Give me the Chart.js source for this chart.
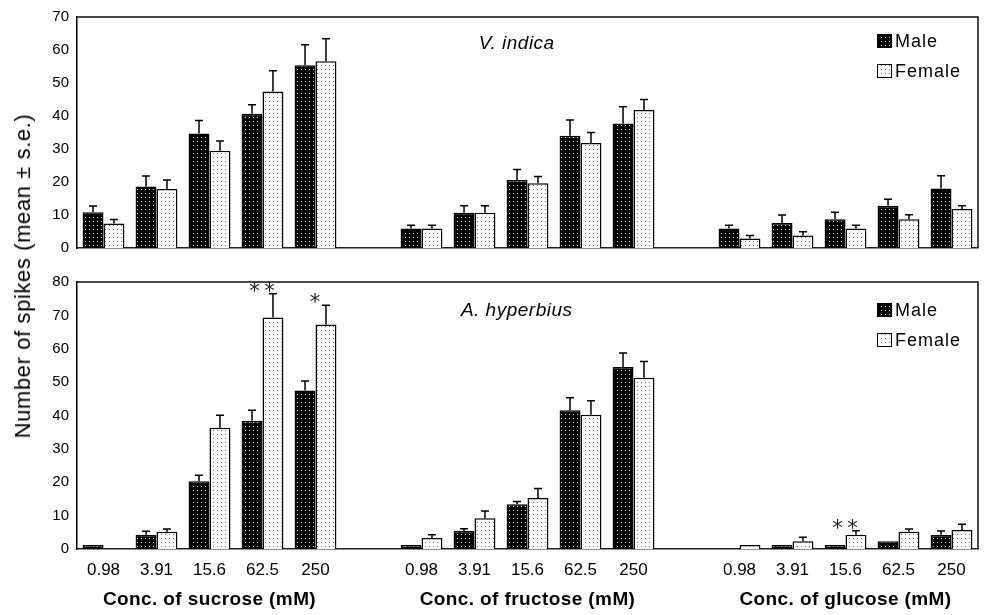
<!DOCTYPE html>
<html><head><meta charset="utf-8">
<script src="https://cdn.jsdelivr.net/npm/chart.js@4.4.0/dist/chart.umd.min.js"></script>
<style>
html,body{margin:0;padding:0;background:#fff;}
#wrap{position:relative;width:984px;height:615px;overflow:hidden;background:#fff;}
#c1box{position:absolute;left:0;top:0;width:984px;height:265px;}
#c2box{position:absolute;left:0;top:265px;width:984px;height:350px;}
#ytitle{position:absolute;left:23px;top:276px;transform:translate(-50%,-50%) rotate(-90deg);white-space:nowrap;font:22px "Liberation Sans",Arial,sans-serif;letter-spacing:0.6px;color:#000;}
</style></head>
<body>
<div id="wrap">
<div id="c1box"><canvas id="c1"></canvas></div>
<div id="c2box"><canvas id="c2"></canvas></div>
<div id="ytitle">Number of spikes (mean ± s.e.)</div>
</div>
<script>
// ---- data ----
const concLabels = ['0.98','3.91','15.6','62.5','250'];
const sugarTitles = ['Conc. of sucrose (mM)','Conc. of fructose (mM)','Conc. of glucose (mM)'];
const seriesNames = ['Male','Female'];
const speciesTop = 'V. indica';
const speciesBottom = 'A. hyperbius';
const yTicksTop = [0,10,20,30,40,50,60,70];
const yTicksBottom = [0,10,20,30,40,50,60,70,80];

// V. indica (sucrose x5, fructose x5, glucose x5)
const vIndicaMaleMean   = [10.8,18.6,34.7,40.7,55.4, 5.9,10.7,20.6,34.0,37.7, 5.9,7.6,8.7,12.8,18.0];
const vIndicaMaleSE     = [1.9,3.2,3.9,2.7,6.2, 1.0,2.1,3.2,4.8,5.1, 1.0,2.4,2.1,2.0,3.9];
const vIndicaFemaleMean = [7.4,17.9,29.5,47.4,56.6, 5.9,10.7,19.6,31.8,41.8, 2.9,3.8,5.9,8.7,11.8];
const vIndicaFemaleSE   = [1.2,2.7,2.9,6.3,6.8, 1.0,2.1,2.1,3.2,3.2, 0.9,1.1,1.0,1.4,1.0];

// A. hyperbius
const aHypMaleMean   = [1.2,4.3,20.3,38.4,47.5, 1.2,5.4,13.4,41.6,54.5, 0,1.2,1.2,2.3,4.3];
const aHypMaleSE     = [0,1.0,1.8,3.2,2.8, 0,0.7,0.8,3.7,4.2, 0,0,0,0,1.1];
const aHypFemaleMean = [0,5.2,36.3,69.4,67.3, 3.3,9.2,15.3,40.2,51.3, 1.2,2.3,4.3,5.2,5.7];
const aHypFemaleSE   = [0,0.8,3.8,7.1,5.7, 1.0,2.2,2.8,4.2,4.9, 0,1.2,1.2,0.8,1.7];

// significance marks (bottom panel, female series, index into 15 values)
const aHypStars = [{series:1, index:3, mark:'**'}, {series:1, index:4, mark:'*'}, {series:1, index:12, mark:'**'}];

// ---- helpers ----
function withGaps(arr, gapVal){
  const out=[];
  for(let g=0;g<3;g++){
    for(let k=0;k<5;k++) out.push(arr[g*5+k]);
    if(g<2) out.push(gapVal);
  }
  return out;
}
function slotOf(i){ return i + Math.floor(i/5); }
const slotLabels = withGaps([...concLabels,...concLabels,...concLabels], '');

function makePattern(bg, dot, w, h){
  const c=document.createElement('canvas'); c.width=w; c.height=h;
  const x=c.getContext('2d'); x.fillStyle=bg; x.fillRect(0,0,w,h);
  x.fillStyle=dot; x.fillRect(1,1,1,1);
  return x.createPattern(c,'repeat');
}
const malePat = makePattern('#000','#e0e0e0',4,4);
const femalePat = makePattern('#fff','#707070',4,4);
const fills = [malePat, femalePat];

const FONT = '"Liberation Sans", Arial, sans-serif';

const decoPlugin = {
  id:'panelDeco',
  afterDatasetsDraw(chart, args, o){
    const ctx=chart.ctx, ca=chart.chartArea, ys=chart.scales.y, xs=chart.scales.x;
    ctx.save();
    // error bars
    ctx.strokeStyle='#000'; ctx.lineWidth=1.5;
    chart.data.datasets.forEach((ds,d)=>{
      const meta=chart.getDatasetMeta(d);
      meta.data.forEach((el,i)=>{
        const v=ds.data[i], se=ds.se[i];
        if(v==null || !se) return;
        const x=el.x, yt=ys.getPixelForValue(v+se), yb=ys.getPixelForValue(v);
        ctx.beginPath(); ctx.moveTo(x,yb); ctx.lineTo(x,yt);
        ctx.moveTo(x-4,yt); ctx.lineTo(x+4,yt); ctx.stroke();
      });
    });
    // frame top and right
    ctx.strokeStyle='#111'; ctx.lineWidth=1.5;
    ctx.beginPath(); ctx.moveTo(ca.left,ca.top); ctx.lineTo(ca.right,ca.top); ctx.lineTo(ca.right,ca.bottom); ctx.stroke();
    // species
    ctx.letterSpacing='0.5px';
    ctx.fillStyle='#000'; ctx.font='italic 19px '+FONT; ctx.textAlign='center'; ctx.textBaseline='middle';
    ctx.fillText(o.species, ca.left + (ca.right-ca.left)*0.488, ca.top + o.speciesDy);
    // legend
    o.legendDy.forEach((dy,k)=>{
      const bx=877, by=ca.top+dy-7;
      ctx.fillStyle=fills[k]; ctx.fillRect(bx,by,15,14);
      ctx.strokeStyle='#000'; ctx.lineWidth=1; ctx.strokeRect(bx+0.5,by+0.5,14,13);
      ctx.fillStyle='#000'; ctx.font='18px '+FONT; ctx.textAlign='left'; ctx.textBaseline='middle';
      ctx.letterSpacing='1px';
      ctx.fillText(seriesNames[k], bx+18, ca.top+dy+1);
    });
    ctx.letterSpacing='0px';
    // stars
    (o.stars||[]).forEach(s=>{
      const ds=chart.data.datasets[s.series];
      const slot=slotOf(s.index);
      const el=chart.getDatasetMeta(s.series).data[slot];
      const v=ds.data[slot], se=ds.se[slot]||0;
      const cx=el.x-11, cy=ys.getPixelForValue(v+se)-7;
      ctx.font='21px "DejaVu Sans", sans-serif'; ctx.textAlign='center'; ctx.textBaseline='alphabetic';
      ctx.fillStyle='#222';
      const m=ctx.measureText('*');
      const off=(m.actualBoundingBoxAscent - m.actualBoundingBoxDescent)/2;
      const n=s.mark.length, sp=15;
      for(let j=0;j<n;j++){
        const x=cx + (j-(n-1)/2)*sp;
        ctx.fillText('*', x, cy+off);
      }
    });
    // x titles
    if(o.xTitles){
      ctx.letterSpacing='0.4px';
      ctx.fillStyle='#000'; ctx.font='bold 19px '+FONT; ctx.textAlign='center'; ctx.textBaseline='middle';
      for(let g=0;g<3;g++){
        const x=(xs.getPixelForValue(g*6)+xs.getPixelForValue(g*6+4))/2;
        ctx.fillText(sugarTitles[g], x, o.xTitleY);
      }
      ctx.letterSpacing='0px';
    }
    ctx.restore();
  }
};

function makeChart(id, maleMean, maleSE, femMean, femSE, yTicks, cfg){
  const ymax=yTicks[yTicks.length-1];
  return new Chart(document.getElementById(id), {
    type:'bar',
    data:{
      labels: slotLabels,
      datasets:[
        {label:seriesNames[0], data:withGaps(maleMean,null), se:withGaps(maleSE,null), backgroundColor:malePat, borderColor:'#000', borderWidth:1.5},
        {label:seriesNames[1], data:withGaps(femMean,null), se:withGaps(femSE,null), backgroundColor:femalePat, borderColor:'#000', borderWidth:1.5}
      ]
    },
    options:{
      responsive:true, maintainAspectRatio:false, animation:false,
      devicePixelRatio:1,
      layout:{padding:{top:cfg.padTop,right:6,bottom:0,left:0}},
      datasets:{bar:{categoryPercentage:0.79, barPercentage:1.0}},
      plugins:{legend:{display:false}, tooltip:{enabled:false},
        panelDeco:{species:cfg.species, speciesDy:cfg.speciesDy, legendDy:cfg.legendDy, stars:cfg.stars, xTitles:cfg.xTitles, xTitleY:cfg.xTitleY}},
      scales:{
        x:{grid:{display:false, drawTicks:false}, border:{display:true,color:'#222',width:1.5},
           ticks:{display:cfg.xTicks, color:'#000', font:{family:FONT,size:17}, padding:11, maxRotation:0, autoSkip:false},
           afterFit(s){ s.height=cfg.xHeight; }},
        y:{min:0,max:ymax, grid:{display:false, drawTicks:false}, border:{display:true,color:'#000',width:1.5},
           ticks:{stepSize:10, color:'#000', font:{family:FONT,size:15}, padding:8},
           afterFit(s){ s.width=77; }}
      }
    },
    plugins:[decoPlugin]
  });
}

makeChart('c1', vIndicaMaleMean, vIndicaMaleSE, vIndicaFemaleMean, vIndicaFemaleSE, yTicksTop,
  {padTop:13, species:speciesTop, speciesDy:27, legendDy:[24,54], stars:[], xTitles:false, xTicks:false, xHeight:14});
makeChart('c2', aHypMaleMean, aHypMaleSE, aHypFemaleMean, aHypFemaleSE, yTicksBottom,
  {padTop:14, species:speciesBottom, speciesDy:29, legendDy:[28,58], stars:aHypStars, xTitles:true, xTitleY:335, xTicks:true, xHeight:66});
</script>
</body></html>
